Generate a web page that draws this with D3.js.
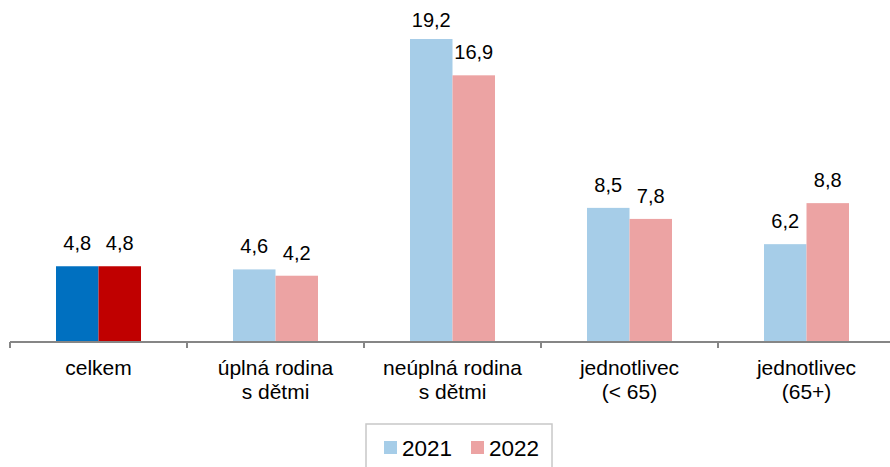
<!DOCTYPE html>
<html>
<head>
<meta charset="utf-8">
<script src="https://cdn.jsdelivr.net/npm/d3@7"></script>
<style>
body { margin: 0; background: #fff; }
text { font-family: Arial, "Liberation Sans", sans-serif; fill: #000; }
</style>
</head>
<body>
<div id="graph1"></div>
<script>
var width = 890;
var height = 467;

// data
var categories = ["celkem", "úplná rodina\ns dětmi", "neúplná rodina\ns dětmi", "jednotlivec\n(< 65)", "jednotlivec\n(65+)"];
var years = ["2021", "2022"];
var values2021 = [4.8, 4.6, 19.2, 8.5, 6.2];
var values2022 = [4.8, 4.2, 16.9, 7.8, 8.8];

var colors = {"2021": "#a6cde8", "2022": "#eca3a3"};
var totalColors = {"2021": "#0070c0", "2022": "#c00000"};

var xScale = d3.scaleBand().domain(categories).range([10, 895]).paddingInner(0).paddingOuter(0);
var xInner = d3.scaleBand().domain(years).range([0, 85]);
var yScale = d3.scaleLinear().domain([0, 20]).range([342, 26.4]);

var svg1 = d3.select("#graph1")
    .append("svg")
        .attr("width", width)
        .attr("height", height);

var rows = categories.map(function(c, i) {
    return {cat: c, i: i, vals: [{year: "2021", v: values2021[i]}, {year: "2022", v: values2022[i]}]};
});

var groups = svg1.selectAll("g.grp")
    .data(rows)
    .enter().append("g")
        .attr("class", "grp")
        .attr("transform", function(d) {
            return "translate(" + (xScale(d.cat) + xScale.bandwidth() / 2 - 42.5) + ",0)";
        });

groups.selectAll("rect")
    .data(function(d) { return d.vals.map(function(v) { return {year: v.year, v: v.v, i: d.i}; }); })
    .enter().append("rect")
        .attr("x", function(d) { return xInner(d.year); })
        .attr("width", xInner.bandwidth())
        .attr("y", function(d) { return yScale(d.v); })
        .attr("height", function(d) { return yScale(0) - yScale(d.v); })
        .attr("fill", function(d) { return d.i === 0 ? totalColors[d.year] : colors[d.year]; });

groups.selectAll("text.val")
    .data(function(d) { return d.vals; })
    .enter().append("text")
        .attr("class", "val")
        .attr("x", function(d) { return xInner(d.year) + xInner.bandwidth() / 2; })
        .attr("y", function(d) { return Math.max(yScale(d.v) - 16, 27); })
        .attr("text-anchor", "middle")
        .style("font-size", "20px")
        .text(function(d) { return String(d.v.toFixed(1)).replace(".", ","); });

// x axis
var xAxis = d3.axisBottom(xScale).tickSize(0).tickFormat("");
var axisG = svg1.append("g")
    .attr("transform", "translate(0,342)")
    .call(xAxis);
axisG.select(".domain").attr("stroke", "#868686").attr("stroke-width", 2).attr("d", "M10,0H895");

// tick marks at the category boundaries
svg1.selectAll("line.tk")
    .data(categories)
    .enter().append("line")
        .attr("class", "tk")
        .attr("x1", function(d) { return xScale(d); })
        .attr("x2", function(d) { return xScale(d); })
        .attr("y1", 342)
        .attr("y2", 348)
        .attr("stroke", "#868686")
        .attr("stroke-width", 2);

var labels = svg1.selectAll("text.cat")
    .data(categories)
    .enter().append("text")
        .attr("class", "cat")
        .attr("text-anchor", "middle")
        .style("font-size", "21px")
        .attr("transform", function(d) { return "translate(" + (xScale(d) + xScale.bandwidth() / 2) + ",375)"; });
labels.selectAll("tspan")
    .data(function(d) { return d.split("\n"); })
    .enter().append("tspan")
        .attr("x", 0)
        .attr("y", function(d, i) { return i * 24; })
        .text(function(d) { return d; });

// legend
var legend = svg1.append("g");
legend.append("rect")
    .attr("x", 366).attr("y", 424)
    .attr("width", 186).attr("height", 60)
    .attr("fill", "#fff")
    .attr("stroke", "#c8c8c8")
    .attr("stroke-width", 1.5);
var legX = [384, 471];
years.forEach(function(y, i) {
    legend.append("rect")
        .attr("x", legX[i]).attr("y", 441)
        .attr("width", 13).attr("height", 13)
        .attr("fill", colors[y]);
    legend.append("text")
        .attr("x", legX[i] + 18).attr("y", 456)
        .style("font-size", "22.5px")
        .text(y);
});
</script>
</body>
</html>
